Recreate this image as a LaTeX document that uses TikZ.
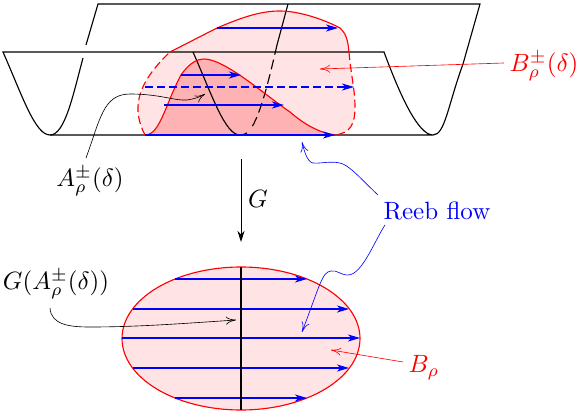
\documentclass[tikz,border=0pt]{standalone}
\usepackage{amsmath,amssymb,xcolor}
\definecolor{rbred}{RGB}{255,0,0}
\definecolor{rbblue}{RGB}{0,0,255}
\definecolor{rbpink}{RGB}{255,227,229}
\definecolor{rbrose}{RGB}{255,178,180}
\usetikzlibrary{arrows.meta,positioning,calc}

\begin{document}
\begin{tikzpicture}[
  x=0.4pt, y=-0.4pt,
  sheet/.style={line width=0.45pt, black},
  rim/.style={line width=0.45pt, rbred},
  flow/.style={line width=0.42pt, rbblue, -{Stealth[length=4.8pt, width=2.8pt, inset=1.4pt]}},
  note/.style={line width=0.25pt, -{Computer Modern Rightarrow[length=4pt, width=3.2pt]}},
  lbl/.style={inner sep=0pt, font=\normalsize}
]
\useasboundingbox (0,0) rectangle (581,413);

% Red regions
\fill[rbpink] (145,135) .. controls (132,110) and (135,85) .. (170,52)
  -- (217,28) .. controls (245,16) and (262,11) .. (280,11)
  .. controls (300,11) and (325,20) .. (340,28)
  .. controls (348,35) and (348,45) .. (349,52)
  .. controls (351,75) and (355,90) .. (355,107)
  .. controls (355,125) and (350,133) .. (335,135) -- cycle;
\fill[rbrose] (145,135) .. controls (160,135) and (165,105) .. (181,75)
  .. controls (190,62) and (198,59) .. (204,59)
  .. controls (225,59) and (265,95) .. (290,112)
  .. controls (305,125) and (320,133) .. (335,135) -- cycle;

% Black sheets
\draw[sheet] (86,45) -- (98,4) -- (480,4) -- (463,64)
  .. controls (448,105) and (445,135) .. (433,135)
  .. controls (418,135) and (400,95) .. (384,52) -- (3,52)
  .. controls (22,95) and (35,135) .. (50,135) -- (433,135);
\draw[sheet] (50,135) .. controls (65,135) and (73,95) .. (83,58);
\draw[sheet] (193,52) .. controls (212,95) and (225,135) .. (240,135)
  .. controls (243,135) and (245,134) .. (247,133);
\draw[sheet] (288,4) -- (277,45);
\draw[sheet, dash pattern=on 4pt off 2pt] (277,45) .. controls (270,75) and (262,110) .. (252,127);

% Red outlines
\draw[rim, dash pattern=on 3.2pt off 1.6pt] (145,135) .. controls (132,110) and (135,85) .. (170,52);
\draw[rim] (170,52) -- (217,28) .. controls (245,16) and (262,11) .. (280,11)
  .. controls (300,11) and (325,20) .. (340,28)
  .. controls (348,35) and (348,45) .. (349,52);
\draw[rim, dash pattern=on 3.2pt off 1.6pt] (349,52) .. controls (351,75) and (355,90) .. (355,107)
  .. controls (355,125) and (350,133) .. (335,135);
\draw[rim] (145,135) .. controls (160,135) and (165,105) .. (181,75)
  .. controls (190,62) and (198,59) .. (204,59)
  .. controls (225,59) and (265,95) .. (290,112)
  .. controls (305,125) and (320,133) .. (335,135);

% Flow lines, upper part
\draw[flow] (217,28) -- (338,28);
\draw[flow] (181,75) -- (241,75);
\draw[flow, dash pattern=on 3.2pt off 1.6pt] (145,87) -- (354,87);
\draw[flow] (164,105) -- (284,105);
\draw[flow] (145,135) -- (335,135);

% Map
\coordinate (gtop) at (241,159);
\coordinate (gend) at (241,242);
\draw[line width=0.4pt, -{Stealth[length=4.4pt, width=2.8pt, inset=1.4pt]}] (gtop) -- (gend);
\node[lbl] (glabel) at (258,199) {$G$};

% Lower disc
\draw[rim, fill=rbpink] (241,338.5) ellipse [x radius=119, y radius=71.5];
\foreach \ya/\xa/\xb in {279/175/307, 309/133/349, 338/122/360, 368/133/349, 398/175/307}
  \draw[flow] (\xa,\ya) -- (\xb,\ya);
\draw[sheet] (241,267) -- (241,410);

% Labels
\node[lbl] (alabel) at (90,181) {$A_\rho^\pm(\delta)$};
\node[lbl, text=rbred] (blabel) at (544,66) {$B_\rho^\pm(\delta)$};
\node[lbl] (galabel) at (56,284) {$G(A_\rho^\pm(\delta))$};
\node[lbl, text=rbblue] (reeb) at (437,211) {Reeb flow};
\node[lbl, text=rbred] (brho) at (424,368) {$B_\rho$};

% Pointers
\coordinate (atip) at (205,94);
\coordinate (btip) at (320,69);
\coordinate (gatip) at (236,320);
\coordinate (rtipa) at (302,142);
\coordinate (rtipb) at (302,332);
\coordinate (brtip) at (331,350);
\draw[note] (86,158) .. controls (100,120) and (103,94) .. (130,94)
  .. controls (160,94) and (175,101) .. (187,100) .. controls (194,99) and (200,97) .. (atip);
\draw[note, rbred] (504,63) -- (btip);
\draw[note] (50,308) .. controls (51,325) and (70,327) .. (90,327) .. controls (140,327) and (190,323) .. (gatip);
\draw[note, rbblue] (378,195) .. controls (365,183) and (352,168) .. (343,164)
  .. controls (333,160) and (320,164) .. (313,163) .. controls (307,162) and (304,150) .. (rtipa);
\draw[note, rbblue] (385,225) .. controls (375,240) and (362,275) .. (348,275)
  .. controls (340,275) and (338,270) .. (331,271) .. controls (322,272) and (320,285) .. (rtipb);
\draw[note, rbred] (403,362) -- (brtip);
\end{tikzpicture}
\end{document}
